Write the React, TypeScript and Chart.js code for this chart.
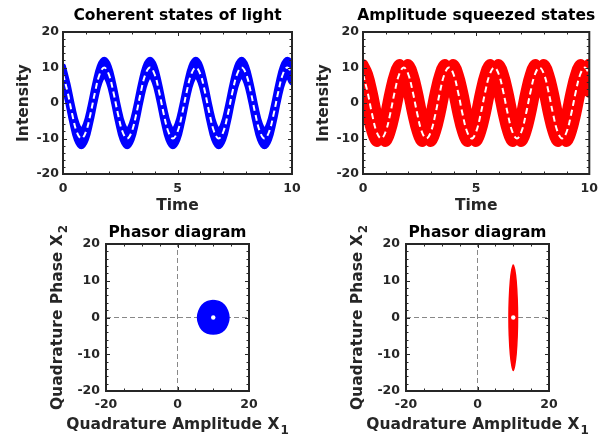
import React, { useEffect, useRef } from "react";
import { Chart, registerables } from "chart.js";

Chart.register(...registerables);

const PAGE_W = 605;
const PAGE_H = 439;
const FONT = '"DejaVu Sans", "Liberation Sans", Arial, sans-serif';
const AXIS_COLOR = "#262626";
const BLUE = "#0000ff";
const RED = "#ff0000";
const REF_GRAY = "#888888";

// ---------- data ----------
const time = [0, 0.2, 0.4, 0.6, 0.8, 1, 1.2, 1.4, 1.6, 1.8, 2, 2.2, 2.4, 2.6, 2.8, 3, 3.2, 3.4, 3.6, 3.8, 4, 4.2, 4.4, 4.6, 4.8, 5, 5.2, 5.4, 5.6, 5.8, 6, 6.2, 6.4, 6.6, 6.8, 7, 7.2, 7.4, 7.6, 7.8, 8, 8.2, 8.4, 8.6, 8.8, 9, 9.2, 9.4, 9.6, 9.8, 10];

// mean intensity (white dashed line)
const meanIntensity = [
  8.1, 3.1, -3.1, -8.1, -10, -8.1, -3.1, 3.1, 8.1, 10,
  8.1, 3.1, -3.1, -8.1, -10, -8.1, -3.1, 3.1, 8.1, 10,
  8.1, 3.1, -3.1, -8.1, -10, -8.1, -3.1, 3.1, 8.1, 10,
  8.1, 3.1, -3.1, -8.1, -10, -8.1, -3.1, 3.1, 8.1, 10,
  8.1, 3.1, -3.1, -8.1, -10, -8.1, -3.1, 3.1, 8.1, 10,
  8.1,
];

// coherent state: upper / lower edge of the noise band
const coherentUpper = [
  10.3, 5.3, -0.9, -5.9, -7.8, -5.9, -0.9, 5.3, 10.3, 12.2,
  10.3, 5.3, -0.9, -5.9, -7.8, -5.9, -0.9, 5.3, 10.3, 12.2,
  10.3, 5.3, -0.9, -5.9, -7.8, -5.9, -0.9, 5.3, 10.3, 12.2,
  10.3, 5.3, -0.9, -5.9, -7.8, -5.9, -0.9, 5.3, 10.3, 12.2,
  10.3, 5.3, -0.9, -5.9, -7.8, -5.9, -0.9, 5.3, 10.3, 12.2,
  10.3,
];
const coherentLower = [
  5.9, 0.9, -5.3, -10.3, -12.2, -10.3, -5.3, 0.9, 5.9, 7.8,
  5.9, 0.9, -5.3, -10.3, -12.2, -10.3, -5.3, 0.9, 5.9, 7.8,
  5.9, 0.9, -5.3, -10.3, -12.2, -10.3, -5.3, 0.9, 5.9, 7.8,
  5.9, 0.9, -5.3, -10.3, -12.2, -10.3, -5.3, 0.9, 5.9, 7.8,
  5.9, 0.9, -5.3, -10.3, -12.2, -10.3, -5.3, 0.9, 5.9, 7.8,
  5.9,
];

// amplitude squeezed state: upper / lower edge of the (phase-noise) band,
// with the double-humped tops and bottoms seen in the picture
const squeezedUpper = [
  10.8, 8.1, 3.1, -3.1, -8.1, -3.1, 3.1, 8.1, 10.8, 9.4,
  10.8, 8.1, 3.1, -3.1, -8.1, -3.1, 3.1, 8.1, 10.8, 9.4,
  10.8, 8.1, 3.1, -3.1, -8.1, -3.1, 3.1, 8.1, 10.8, 9.4,
  10.8, 8.1, 3.1, -3.1, -8.1, -3.1, 3.1, 8.1, 10.8, 9.4,
  10.8, 8.1, 3.1, -3.1, -8.1, -3.1, 3.1, 8.1, 10.8, 9.4,
  10.8,
];
const squeezedLower = [
  3.1, -3.1, -8.1, -10.8, -9.4, -10.8, -8.1, -3.1, 3.1, 8.1,
  3.1, -3.1, -8.1, -10.8, -9.4, -10.8, -8.1, -3.1, 3.1, 8.1,
  3.1, -3.1, -8.1, -10.8, -9.4, -10.8, -8.1, -3.1, 3.1, 8.1,
  3.1, -3.1, -8.1, -10.8, -9.4, -10.8, -8.1, -3.1, 3.1, 8.1,
  3.1, -3.1, -8.1, -10.8, -9.4, -10.8, -8.1, -3.1, 3.1, 8.1,
  3.1,
];

// phasor clouds (outline of the dense region)
const coherentCloudX = [10, 11.7, 13.1, 14.0, 14.4, 14.0, 13.1, 11.7, 10, 8.3, 6.9, 6.0, 5.6, 6.0, 6.9, 8.3, 10];
const coherentCloudY = [4.6, 4.3, 3.3, 1.8, 0, -1.8, -3.3, -4.2, -4.5, -4.2, -3.3, -1.8, 0, 1.8, 3.3, 4.3, 4.6];
const squeezedCloudX = [10, 10.4, 10.8, 11.1, 11.2, 11.1, 10.8, 10.4, 10, 9.6, 9.2, 8.9, 8.8, 8.9, 9.2, 9.6, 10];
const squeezedCloudY = [14.4, 13, 10, 5, 0, -5, -10, -13, -14.4, -13, -10, -5, 0, 5, 10, 13, 14.4];
const phasorMeanX = [10];
const phasorMeanY = [0];

// reference (dashed) axes in the phasor diagrams
const refSpan = [-20, 20];
const refZero = [0, 0];

// ticks
const timeTicks = [0, 5, 10];
const timeMarks = [0, 1, 2, 3, 4, 5, 6, 7, 8, 9, 10];
const intensityTicks = [-20, -10, 0, 10, 20];
const intensityMarks = [-20, -18, -16, -14, -12, -10, -8, -6, -4, -2, 0, 2, 4, 6, 8, 10, 12, 14, 16, 18, 20];
const quadXTicks = [-20, 0, 20];
const quadXMarks = [-20, -15, -10, -5, 0, 5, 10, 15, 20];
const quadYTicks = [-20, -10, 0, 10, 20];
const quadYMarks = [-20, -18, -16, -14, -12, -10, -8, -6, -4, -2, 0, 2, 4, 6, 8, 10, 12, 14, 16, 18, 20];

// ---------- helpers ----------
const pts = (xs: number[], ys: number[]) => xs.map((x, i) => ({ x, y: ys[i] }));

// closed band: upper edge left->right, then lower edge right->left
const bandShape = (upper: number[], lower: number[]) => {
  const top = pts(time, upper);
  const bottom = pts(time, lower).reverse();
  return [...top, ...bottom, top[0]];
};

const YW = 40; // fixed y-axis box width
const XH = 25; // fixed x-axis box height

function timeDatasets(a: number[], b: number[], color: string, width: number) {
  return [
    { data: bandShape(a, b), borderColor: color, backgroundColor: color, borderWidth: width, fill: "shape", order: 1, tension: 0.4, clip: 0, borderJoinStyle: "round", borderCapStyle: "round" },
    { data: pts(time, meanIntensity), borderColor: "#ffffff", borderWidth: 2, borderDash: [6, 4], fill: false, order: 0, tension: 0.4, clip: 0 },
  ];
}

function phasorDatasets(cx: number[], cy: number[], color: string) {
  return [
    { data: pts(refSpan, refZero), borderColor: REF_GRAY, borderWidth: 1, borderDash: [5, 3], fill: false, order: 3, tension: 0, clip: 0 },
    { data: pts(refZero, refSpan), borderColor: REF_GRAY, borderWidth: 1, borderDash: [5, 3], fill: false, order: 3, tension: 0, clip: 0 },
    { data: pts(cx, cy), borderColor: color, backgroundColor: color, borderWidth: 1.5, fill: "shape", order: 1, tension: 0.3, clip: 0 },
    { data: pts(phasorMeanX, phasorMeanY), showLine: false, pointRadius: 2.2, pointBackgroundColor: "#ffffff", pointBorderWidth: 0, order: 0, clip: 0 },
  ];
}

type Panel = {
  key: string;
  area: { left: number; top: number; right: number; bottom: number };
  title: string;
  xLabel: string;
  xSub?: string;
  yLabel: string;
  ySub?: string;
  titleY: number;
  xLabelY: number;
  yLabelX: number;
  x: { min: number; max: number; ticks: number[]; marks: number[] };
  y: { min: number; max: number; ticks: number[]; marks: number[] };
  xPad: number;
  yPad: number;
  datasets: any[];
};

const panels: Panel[] = [
  {
    key: "coherent",
    area: { left: 63, top: 32, right: 292, bottom: 174 },
    title: "Coherent states of light",
    xLabel: "Time",
    yLabel: "Intensity",
    titleY: 16,
    xLabelY: 206,
    yLabelX: 24,
    x: { min: 0, max: 10, ticks: timeTicks, marks: timeMarks },
    y: { min: -20, max: 20, ticks: intensityTicks, marks: intensityMarks },
    xPad: 7,
    yPad: 4,
    datasets: timeDatasets(coherentUpper, coherentLower, BLUE, 6),
  },
  {
    key: "squeezed",
    area: { left: 363, top: 32, right: 592, bottom: 174 },
    title: "Amplitude squeezed states",
    xLabel: "Time",
    yLabel: "Intensity",
    titleY: 16,
    xLabelY: 206,
    yLabelX: 324,
    x: { min: 0, max: 10, ticks: timeTicks, marks: timeMarks },
    y: { min: -20, max: 20, ticks: intensityTicks, marks: intensityMarks },
    xPad: 7,
    yPad: 4,
    datasets: timeDatasets(squeezedUpper, squeezedLower, RED, 11),
  },
  {
    key: "phasorCoherent",
    area: { left: 106, top: 244, right: 249, bottom: 391 },
    title: "Phasor diagram",
    xLabel: "Quadrature Amplitude X",
    xSub: "1",
    yLabel: "Quadrature Phase X",
    ySub: "2",
    titleY: 232.5,
    xLabelY: 425,
    yLabelX: 58,
    x: { min: -20, max: 20, ticks: quadXTicks, marks: quadXMarks },
    y: { min: -20, max: 20, ticks: quadYTicks, marks: quadYMarks },
    xPad: 6,
    yPad: 6,
    datasets: phasorDatasets(coherentCloudX, coherentCloudY, BLUE),
  },
  {
    key: "phasorSqueezed",
    area: { left: 406, top: 244, right: 549, bottom: 391 },
    title: "Phasor diagram",
    xLabel: "Quadrature Amplitude X",
    xSub: "1",
    yLabel: "Quadrature Phase X",
    ySub: "2",
    titleY: 232.5,
    xLabelY: 425,
    yLabelX: 358,
    x: { min: -20, max: 20, ticks: quadXTicks, marks: quadXMarks },
    y: { min: -20, max: 20, ticks: quadYTicks, marks: quadYMarks },
    xPad: 6,
    yPad: 6,
    datasets: phasorDatasets(squeezedCloudX, squeezedCloudY, RED),
  },
];

const MAIN_FONT = `bold 15.5px ${FONT}`;
const SUB_FONT = `bold 12px ${FONT}`;

function drawLabel(ctx: CanvasRenderingContext2D, text: string, sub: string | undefined, cx: number, cy: number, rotate: boolean, color: string) {
  ctx.save();
  ctx.translate(cx, cy);
  if (rotate) ctx.rotate(-Math.PI / 2);
  ctx.fillStyle = color;
  ctx.textBaseline = "middle";
  ctx.textAlign = "left";
  ctx.font = MAIN_FONT;
  const w1 = ctx.measureText(text).width;
  let w2 = 0;
  if (sub) {
    ctx.font = SUB_FONT;
    w2 = ctx.measureText(sub).width + 1;
  }
  const start = -(w1 + w2) / 2;
  ctx.font = MAIN_FONT;
  ctx.fillText(text, start, 0);
  if (sub) {
    ctx.font = SUB_FONT;
    ctx.fillText(sub, start + w1 + 1, 6);
  }
  ctx.restore();
}

function makeDecor(p: Panel) {
  return {
    id: "decor_" + p.key,
    afterDatasetsDraw(chart: any) {
      const { ctx, chartArea: a, scales } = chart;
      const xs = scales.x;
      const ys = scales.y;
      ctx.save();
      ctx.strokeStyle = AXIS_COLOR;
      ctx.lineWidth = 1;
      ctx.beginPath();
      for (const v of p.x.marks) {
        const px = Math.round(xs.getPixelForValue(v)) + 0.5;
        const len = p.x.ticks.includes(v) ? 4 : 2.5;
        ctx.moveTo(px, a.bottom);
        ctx.lineTo(px, a.bottom - len);
        ctx.moveTo(px, a.top);
        ctx.lineTo(px, a.top + len);
      }
      for (const v of p.y.marks) {
        const py = Math.round(ys.getPixelForValue(v)) + 0.5;
        const len = p.y.ticks.includes(v) ? 4 : 2.5;
        ctx.moveTo(a.left, py);
        ctx.lineTo(a.left + len, py);
        ctx.moveTo(a.right, py);
        ctx.lineTo(a.right - len, py);
      }
      ctx.stroke();
      ctx.lineWidth = 2;
      ctx.strokeRect(a.left, a.top, a.right - a.left, a.bottom - a.top);
      ctx.restore();
    },
    afterDraw(chart: any) {
      const { ctx, chartArea: a } = chart;
      const cx = (a.left + a.right) / 2;
      const cy = (a.top + a.bottom) / 2;
      drawLabel(ctx, p.title, undefined, cx, p.titleY, false, "#000000");
      drawLabel(ctx, p.xLabel, p.xSub, cx, p.xLabelY, false, AXIS_COLOR);
      drawLabel(ctx, p.yLabel, p.ySub, p.yLabelX, cy, true, AXIS_COLOR);
    },
  };
}

function PanelChart({ panel }: { panel: Panel }) {
  const ref = useRef<HTMLCanvasElement | null>(null);
  useEffect(() => {
    if (!ref.current) return;
    const a = panel.area;
    const tickFont = { family: FONT, size: 12.5, weight: "bold" as const };
    const chart = new Chart(ref.current, {
      type: "line",
      data: { datasets: panel.datasets },
      options: {
        responsive: false,
        animation: false,
        events: [],
        layout: {
          padding: {
            left: a.left - YW,
            top: a.top,
            right: PAGE_W - a.right,
            bottom: PAGE_H - a.bottom - XH,
          },
        },
        elements: { point: { radius: 0 }, line: { tension: 0.4 } },
        plugins: {
          legend: { display: false },
          tooltip: { enabled: false },
          title: { display: false },
        },
        scales: {
          x: {
            type: "linear",
            min: panel.x.min,
            max: panel.x.max,
            grid: { display: false, drawTicks: false, tickLength: 0 },
            border: { display: false },
            ticks: { font: tickFont, color: AXIS_COLOR, padding: panel.xPad, maxRotation: 0, autoSkip: false },
            afterBuildTicks: (s: any) => {
              s.ticks = panel.x.ticks.map((v) => ({ value: v }));
            },
            afterFit: (s: any) => {
              s.height = XH;
            },
          },
          y: {
            type: "linear",
            min: panel.y.min,
            max: panel.y.max,
            grid: { display: false, drawTicks: false, tickLength: 0 },
            border: { display: false },
            ticks: { font: tickFont, color: AXIS_COLOR, padding: panel.yPad, autoSkip: false },
            afterBuildTicks: (s: any) => {
              s.ticks = panel.y.ticks.map((v) => ({ value: v }));
            },
            afterFit: (s: any) => {
              s.width = YW;
            },
          },
        },
      } as any,
      plugins: [makeDecor(panel)],
    });
    return () => chart.destroy();
  }, [panel]);
  return (
    <canvas
      ref={ref}
      width={PAGE_W}
      height={PAGE_H}
      style={{ position: "absolute", left: 0, top: 0, width: PAGE_W, height: PAGE_H }}
    />
  );
}

export default function App() {
  return (
    <div style={{ position: "fixed", left: 0, top: 0, width: PAGE_W, height: PAGE_H, background: "#ffffff", overflow: "hidden" }}>
      {panels.map((p) => (
        <PanelChart key={p.key} panel={p} />
      ))}
    </div>
  );
}
